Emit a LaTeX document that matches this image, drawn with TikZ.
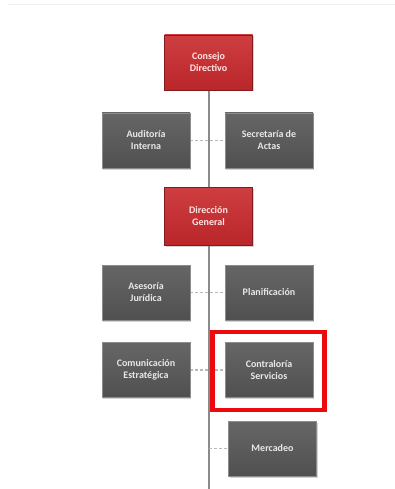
\documentclass[tikz,border=0pt]{standalone}
\usepackage{fontspec}
\setmainfont{Carlito}
\usetikzlibrary{shadows,backgrounds}
\definecolor{boxgray}{RGB}{80,80,80}
\definecolor{boxgraytop}{RGB}{102,102,102}
\definecolor{boxred}{RGB}{186,38,42}
\definecolor{boxredtop}{RGB}{206,62,64}
\definecolor{linegray}{RGB}{138,138,138}
\definecolor{markred}{RGB}{236,10,14}
\tikzset{
  unit/.style={rectangle, minimum width=88pt, minimum height=55pt, inner sep=1pt,
    align=center, font=\fontsize{10}{12}\selectfont\bfseries, text=white!82!gray,
    draw=black!45, line width=0.3pt, top color=boxgraytop, bottom color=boxgray,
    drop shadow={shadow xshift=1pt, shadow yshift=-1.5pt, opacity=0.35}},
  head/.style={unit, top color=boxredtop, bottom color=boxred, draw=boxred!70!black,
    text=red!10!white},
  stem/.style={draw=linegray, line width=2pt},
  dash link/.style={draw=gray!55, line width=1.2pt, dash pattern=on 3pt off 2pt},
}
\begin{document}
\begin{tikzpicture}[x=1pt, y=-1pt]
  \useasboundingbox (0,0) rectangle (395,489);
  \draw[gray!12, line width=1pt] (8,5) -- (395,5);%top rule

  \node[head] (consejo) at (208.5,62.5) {Consejo\\Directivo};
  \node[unit] (auditoria) at (146,140.5) {Auditoría\\Interna};
  \node[unit] (secretaria) at (269,140.5) {Secretaría de\\Actas};
  \node[head, minimum height=58pt] (direccion) at (208.5,216) {Dirección\\General};
  \node[unit] (asesoria) at (146,292.5) {Asesoría\\Jurídica};
  \node[unit] (planificacion) at (269,292.5) {Planificación};
  \node[unit] (comunicacion) at (146,370) {Comunicación\\Estratégica};
  \node[unit] (contraloria) at (269,370) {Contraloría\\Servicios};
  \node[unit] (mercadeo) at (272.5,448.5) {Mercadeo};

  \coordinate (stemend) at (208.5,489);
  \coordinate (mercadeotap) at (208.5,448.5);

  \begin{scope}[on background layer]
    \draw[stem] (consejo.south) -- (stemend);%main line
    \draw[dash link] (auditoria.east) -- (secretaria.west);
    \draw[dash link] (asesoria.east) -- (planificacion.west);
    \draw[dash link] (comunicacion.east) -- (contraloria.west);
    \draw[dash link] (mercadeotap) -- (mercadeo.west);
  \end{scope}

  % highlight
  \node[draw=markred, line width=4.5pt, minimum width=112pt, minimum height=78pt]
    (marco) at (268.5,371) {};
\end{tikzpicture}
\end{document}
